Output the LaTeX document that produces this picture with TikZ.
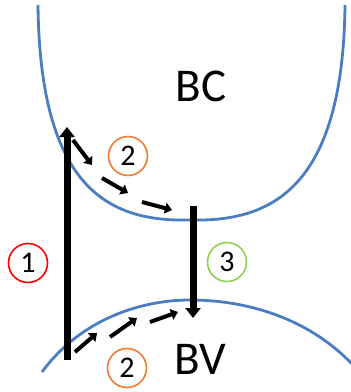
\documentclass[tikz,border=0pt]{standalone}
\usepackage{fontspec}
\setmainfont{Carlito}
\usetikzlibrary{arrows.meta}
\definecolor{bandblue}{RGB}{74,126,193}
\definecolor{numorange}{RGB}{237,125,49}
\definecolor{numgreen}{RGB}{146,208,80}

\begin{document}
\begin{tikzpicture}[x=1pt,y=-1pt,>={Triangle[length=10pt,width=15pt]},
                    band/.style={draw=bandblue,line width=2.8pt},
                    jump/.style={->,line width=7pt},
                    relax/.style={-{Triangle[length=7pt,width=11pt]},line width=4pt},
                    num/.style={circle,draw,line width=1.6pt,minimum size=39pt,
                                inner sep=0pt,font=\fontsize{30}{30}\selectfont}]
  \useasboundingbox (0,0) rectangle (351,392);
  \clip (0,0) rectangle (351,392);

  % bands
  \draw[band] (38,5) .. controls (40,190) and (110,222) .. (190,220)
              .. controls (270,222) and (343,190) .. (345,5);
  \draw[band] (42,372) .. controls (80,320) and (140,300) .. (190,300)
              .. controls (250,300) and (310,320) .. (352,364);

  \node[font=\fontsize{47}{47}\selectfont] (BC) at (201,86) {BC};
  \node[font=\fontsize{47}{47}\selectfont] (BV) at (200,359) {BV};

  \node[num,draw=red]        (one)  at (28,263)  {1};
  \node[num,draw=numorange]  (twoU) at (128,156) {2};
  \node[num,draw=numgreen]   (three) at (227,262) {3};
  \node[num,draw=numorange]  (twoL) at (127,368) {2};

  % transitions
  \coordinate (absS) at (67,360);
  \coordinate (absE) at (67,127);
  \coordinate (recS) at (193,206);
  \coordinate (recE) at (193,318);
  \draw[jump] (absS) -- (absE);
  \draw[jump] (recS) -- (recE);

  % thermalisation
  \coordinate (u1) at (73,140);  \coordinate (u2) at (92,165);
  \coordinate (u3) at (102,178); \coordinate (u4) at (128,193);
  \coordinate (u5) at (142,202); \coordinate (u6) at (172,210);
  \coordinate (l1) at (75,352);  \coordinate (l2) at (97,333);
  \coordinate (l3) at (110,337); \coordinate (l4) at (137,318);
  \coordinate (l5) at (150,322); \coordinate (l6) at (178,312);
  \foreach \a/\b in {u1/u2,u3/u4,u5/u6,l1/l2,l3/l4,l5/l6}
    \draw[relax] (\a) -- (\b);
\end{tikzpicture}
\end{document}
